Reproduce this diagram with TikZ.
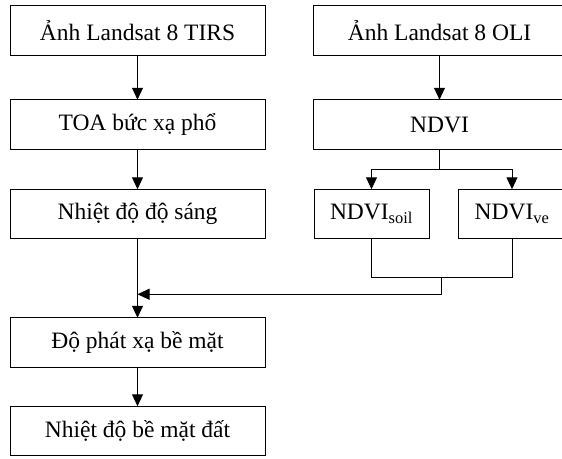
\documentclass[tikz,border=0pt]{standalone}
\usepackage{fontspec}
\setmainfont{Liberation Serif}
\usetikzlibrary{arrows.meta,positioning,calc}

\begin{document}
\begin{tikzpicture}[>={Triangle[length=12pt,width=11pt]},line width=1pt,
    box/.style={draw,rectangle,outer sep=0pt,minimum height=49.5pt,
      font=\fontsize{23.5}{28}\selectfont},
    node distance=40pt]
    \useasboundingbox (0,0) rectangle (562pt,-458pt);

    \node[box,minimum width=255pt] (tirs) at (137.5pt,-30.5pt) {Ảnh Landsat 8 TIRS};
    \node[box,minimum width=255pt] (toa)  [below=44.5pt of tirs]  {TOA bức xạ phổ};
    \node[box,minimum width=255pt] (bt)   [below=of toa]          {Nhiệt độ độ sáng};
    \node[box,minimum width=255pt] (emis) [below=79pt of bt]      {Độ phát xạ bề mặt};
    \node[box,minimum width=255pt] (lst)  [below=39pt of emis]    {Nhiệt độ bề mặt đất};

    \node[box,minimum width=253pt] (oli)  at (439.5pt,-30.5pt)    {Ảnh Landsat 8 OLI};
    \node[box,minimum width=253pt] (ndvi) [below=44.5pt of oli]   {NDVI};
    \node[box,minimum width=115pt] (soil) [below=of ndvi.south west,anchor=north west,xshift=1pt] {NDVI\textsubscript{soil}};
    \node[box,minimum width=108pt] (veg)  [right=29pt of soil]    {NDVI\textsubscript{ve}};

    \draw[->] (tirs) -- (toa);
    \draw[->] (toa) -- (bt);
    \draw[->] (bt) -- (emis);
    \draw[->] (emis) -- (lst);
    \draw[->] (oli) -- (ndvi);

    \draw (ndvi.south) -- ++(0,-20pt) coordinate (split);
    \draw[->] (split) -| (soil);
    \draw[->] (split) -| (veg);

    \draw (soil.south) -- ++(0,-38.5pt) -| (veg.south);
    \coordinate (join) at ($(soil.south)!0.5!(veg.south)+(0,-38.5pt)$);
    \draw[->] (join) -- ++(0,-17pt) coordinate (merge) -- (merge -| bt.south);
\end{tikzpicture}
\end{document}
